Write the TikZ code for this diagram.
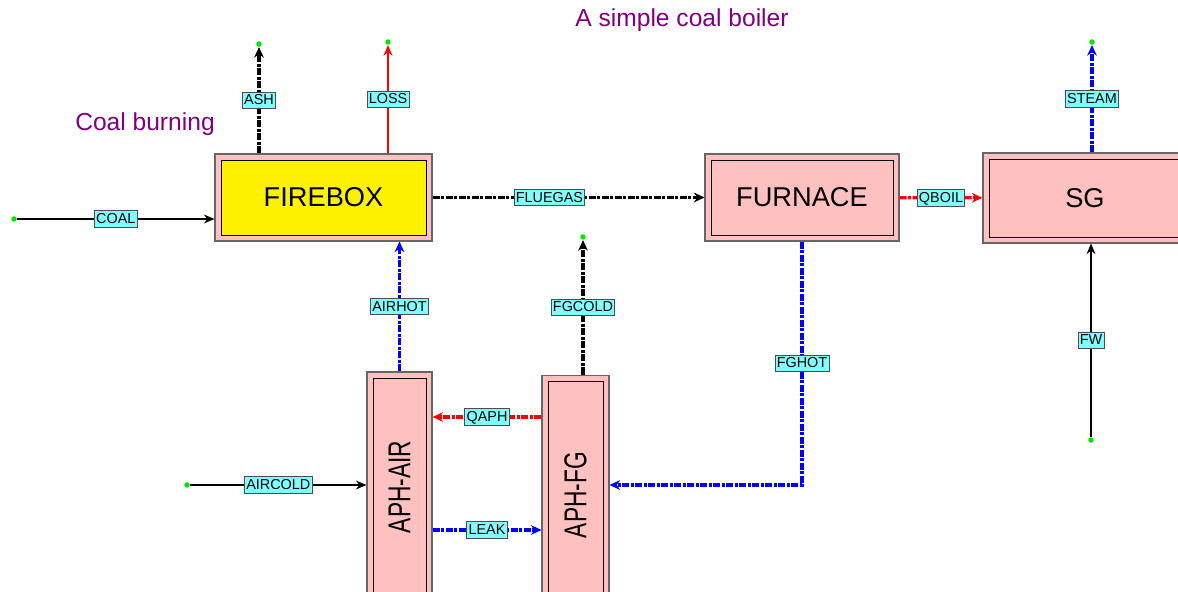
\documentclass[tikz,border=0pt]{standalone}
\usepackage{fontspec}
\setmainfont{Liberation Sans}
\usetikzlibrary{arrows.meta, calc}
\definecolor{unitpink}{RGB}{255,192,192}
\definecolor{tagcyan}{RGB}{128,255,255}
\definecolor{notepurple}{RGB}{128,0,128}
\definecolor{portgreen}{RGB}{0,230,0}

\begin{document}
\begin{tikzpicture}[x=0.02cm, y=-0.02cm,
    unit/.style={draw=black!60, fill=unitpink, line width=0.6pt,
        font=\fontsize{15.5}{18}\selectfont,
        path picture={\filldraw[draw=black, line width=0.5pt, fill=#1]
            ([shift={(3.4pt,-3.4pt)}]path picture bounding box.north west) rectangle
            ([shift={(-3.4pt,3.4pt)}]path picture bounding box.south east);}},
    unit/.default=unitpink,
    streamtag/.style={draw=black!70, fill=tagcyan, text=black, solid, line width=0.5pt,
        font=\fontsize{8.2}{9}\selectfont,
        inner xsep=1pt, inner ysep=1.3pt, text height=6pt, text depth=0.8pt},
    port/.style={circle, fill=portgreen, inner sep=1.1pt},
    plain/.style={line width=1.4pt, -{Stealth[length=6pt, width=5pt]}},
    hatched/.style={line width=1.8pt, dash pattern=on 4pt off 0.8pt on 1.8pt off 0.8pt,
        -{Stealth[length=6pt, width=5.5pt]}},
    note/.style={text=notepurple, font=\fontsize{14}{16}\selectfont}]

    \useasboundingbox (0,0) rectangle (1178,592);

    % Annotations
    \node[note] (title) at (682,20) {A simple coal boiler};
    \node[note] (burning) at (145,124) {Coal burning};

    % Units
    \node[unit=yellow, minimum width=4.34cm, minimum height=1.74cm] (firebox) at (323.5,197.5) {FIREBOX};
    \node[unit, minimum width=3.88cm, minimum height=1.74cm] (furnace) at (802,197.5) {FURNACE};
    \node[unit, minimum width=4.08cm, minimum height=1.8cm] (sg) at (1085,198) {SG};
    \node[unit, minimum width=1.3cm, minimum height=4.6cm, font=\fontsize{18}{20}\selectfont] (aphair) at (399.5,487)
        {\rotatebox{90}{\scalebox{0.72}[1]{APH-AIR}}};
    \node[unit, minimum width=1.34cm, minimum height=4.8cm, font=\fontsize{18}{20}\selectfont] (aphfg) at (575.5,495)
        {\rotatebox{90}{\scalebox{0.72}[1]{APH-FG}}};

    % Free ends
    \node[port] (coalin) at (14,219) {};
    \node[port] (ashout) at (259,44) {};
    \node[port] (lossout) at (388,42) {};
    \node[port] (fgcoldout) at (583,237) {};
    \node[port] (steamout) at (1092,42) {};
    \node[port] (fwin) at (1091,440) {};
    \node[port] (aircoldin) at (187,485) {};

    % Streams
    \draw[plain] (coalin) -- (coalin -| firebox.west) node[midway, streamtag] {COAL};
    \draw[hatched] (ashout |- firebox.north) -- (ashout) node[midway, streamtag] {ASH};
    \draw[plain, red] (lossout |- firebox.north) -- (lossout) node[midway, streamtag] {LOSS};
    \draw[hatched] (firebox) -- (furnace) node[pos=0.43, streamtag] {FLUEGAS};
    \draw[hatched, red] (furnace) -- (sg) node[midway, streamtag] {QBOIL};
    \draw[hatched, blue] (steamout |- sg.north) -- (steamout) node[midway, streamtag] {STEAM};
    \draw[plain] (fwin) -- (fwin |- sg.south) node[midway, streamtag] {FW};
    \draw[hatched, blue] (aphair) -- (aphair |- firebox.south) node[midway, streamtag] {AIRHOT};
    \draw[hatched] (fgcoldout |- aphfg.north) -- (fgcoldout) node[midway, streamtag] {FGCOLD};
    \draw[hatched, blue] (furnace.south) |- ($(aphfg.east)+(0,-10)$) node[pos=0.25, streamtag] {FGHOT};
    \coordinate (qaph) at ($(aphfg.west)+(0,-78)$);
    \draw[hatched, red] (qaph) -- (qaph -| aphair.east) node[midway, streamtag] {QAPH};
    \coordinate (leak) at ($(aphair.east)+(0,43)$);
    \draw[hatched, blue] (leak) -- (leak -| aphfg.west) node[midway, streamtag] {LEAK};
    \draw[plain] (aircoldin) -- (aircoldin -| aphair.west) node[midway, streamtag] {AIRCOLD};
\end{tikzpicture}
\end{document}
